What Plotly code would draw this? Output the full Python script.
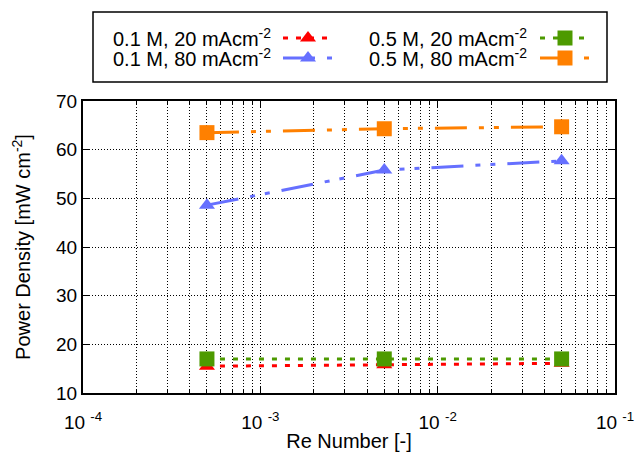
import plotly.graph_objects as go

W, H = 636, 453

re_number = [5e-4, 5e-3, 5e-2]
series_names = ["0.1 M, 20 mAcm<sup>-2</sup>", "0.5 M, 20 mAcm<sup>-2</sup>",
                "0.1 M, 80 mAcm<sup>-2</sup>", "0.5 M, 80 mAcm<sup>-2</sup>"]
p_01_20 = [15.5, 15.8, 16.1]
p_05_20 = [17.0, 17.0, 17.0]
p_01_80 = [48.6, 55.8, 57.7]
p_05_80 = [63.5, 64.3, 64.7]
x_tickvals = [1e-4, 1e-3, 1e-2, 1e-1]
x_ticktext = ["10 <sup>-4</sup>", "10 <sup>-3</sup>", "10 <sup>-2</sup>", "10 <sup>-1</sup>"]
x_minor = [m * d for d in (1e-4, 1e-3, 1e-2) for m in range(2, 10)]
y_tickvals = [10, 20, 30, 40, 50, 60, 70]

FONT = "Liberation Sans, Arial, sans-serif"
RED, GREEN, BLUE, ORANGE = "#ff0000", "#4d9a00", "#6670ff", "#ff8000"
SHORT = "5px,8px"
LDD = "32px,12px,5px,10px,5px,12px"

styles = [
    dict(color=RED, dash=SHORT, symbol="triangle-up", msize=14),
    dict(color=GREEN, dash=SHORT, symbol="square", msize=15),
    dict(color=BLUE, dash=LDD, symbol="triangle-up", msize=14),
    dict(color=ORANGE, dash=LDD, symbol="square", msize=15),
]
values = [p_01_20, p_05_20, p_01_80, p_05_80]

def px(x):
    return x / W

def py(y):
    return 1 - y / H

fig = go.Figure()
for name, vals, st in zip(series_names, values, styles):
    fig.add_trace(go.Scatter(
        x=re_number, y=vals, mode="lines+markers", name=name, showlegend=False,
        line=dict(color=st["color"], width=3, dash=st["dash"]),
        marker=dict(symbol=st["symbol"], size=st["msize"], color=st["color"]),
    ))

# manual legend (text left of sample, like the original)
LB = dict(x0=93, x1=607, y0=12, y1=82)
leg_cols = [(273, 283, 333), (529, 540, 590)]
leg_rows = [38, 58]
for i, (name, st) in enumerate(zip(series_names, styles)):
    col, row = i % 2, i // 2
    tx, x0, x1 = leg_cols[col]
    yy = H - leg_rows[row]
    fig.add_trace(go.Scatter(
        x=[x0, x1], y=[yy, yy], mode="lines", xaxis="x2", yaxis="y2", showlegend=False,
        line=dict(color=st["color"], width=3, dash=st["dash"]), hoverinfo="skip"))
    fig.add_trace(go.Scatter(
        x=[(x0 + x1) / 2], y=[yy], mode="markers", xaxis="x2", yaxis="y2", showlegend=False,
        marker=dict(symbol=st["symbol"], size=st["msize"], color=st["color"]), hoverinfo="skip"))
    fig.add_annotation(x=px(tx), y=py(leg_rows[row]), xref="paper", yref="paper",
                       text=name, showarrow=False, xanchor="right", yanchor="middle",
                       font=dict(family=FONT, size=20, color="black"))

fig.add_shape(type="rect", xref="paper", yref="paper",
              x0=px(LB["x0"]), x1=px(LB["x1"]), y0=py(LB["y1"]), y1=py(LB["y0"]),
              line=dict(color="black", width=1.5))

grid = dict(showgrid=True, gridcolor="black", gridwidth=1, griddash="1px,2px")
fig.update_layout(
    width=W, height=H, margin=dict(l=0, r=0, t=0, b=0),
    paper_bgcolor="white", plot_bgcolor="rgba(0,0,0,0)",
    font=dict(family=FONT, size=20, color="black"),
    xaxis=dict(type="log", range=[-4, -1], domain=[px(83), px(615)], automargin=False,
               tickvals=x_tickvals, ticktext=x_ticktext, ticks="inside", ticklen=7,
               tickcolor="black", showline=True, linecolor="black", linewidth=2,
               mirror="ticks", zeroline=False, ticklabelstandoff=11,
               minor=dict(tickvals=x_minor, showgrid=True, gridcolor="black", gridwidth=1,
                          griddash="1px,2px", ticks="inside", ticklen=4, tickcolor="black"),
               title=dict(text="Re Number [-]", standoff=2, font=dict(size=20)),
               tickfont=dict(size=19), **grid),
    yaxis=dict(range=[10, 70], domain=[py(393), py(101)], tickvals=y_tickvals,
               automargin=False,
               ticks="inside", ticklen=7, tickcolor="black", showline=True,
               linecolor="black", linewidth=2, mirror="ticks", zeroline=False,
               ticklabelstandoff=0,
               title=dict(text="Power Density [mW cm<sup>-2</sup>]", standoff=20, font=dict(size=20)),
               tickfont=dict(size=19), **grid),
    xaxis2=dict(domain=[px(LB["x0"]), px(LB["x1"])], range=[LB["x0"], LB["x1"]],
                visible=False, anchor="y2", automargin=False),
    yaxis2=dict(domain=[py(LB["y1"]), py(LB["y0"])], range=[H - LB["y1"], H - LB["y0"]],
                visible=False, anchor="x2", automargin=False),
)
fig.write_html("out.html")
